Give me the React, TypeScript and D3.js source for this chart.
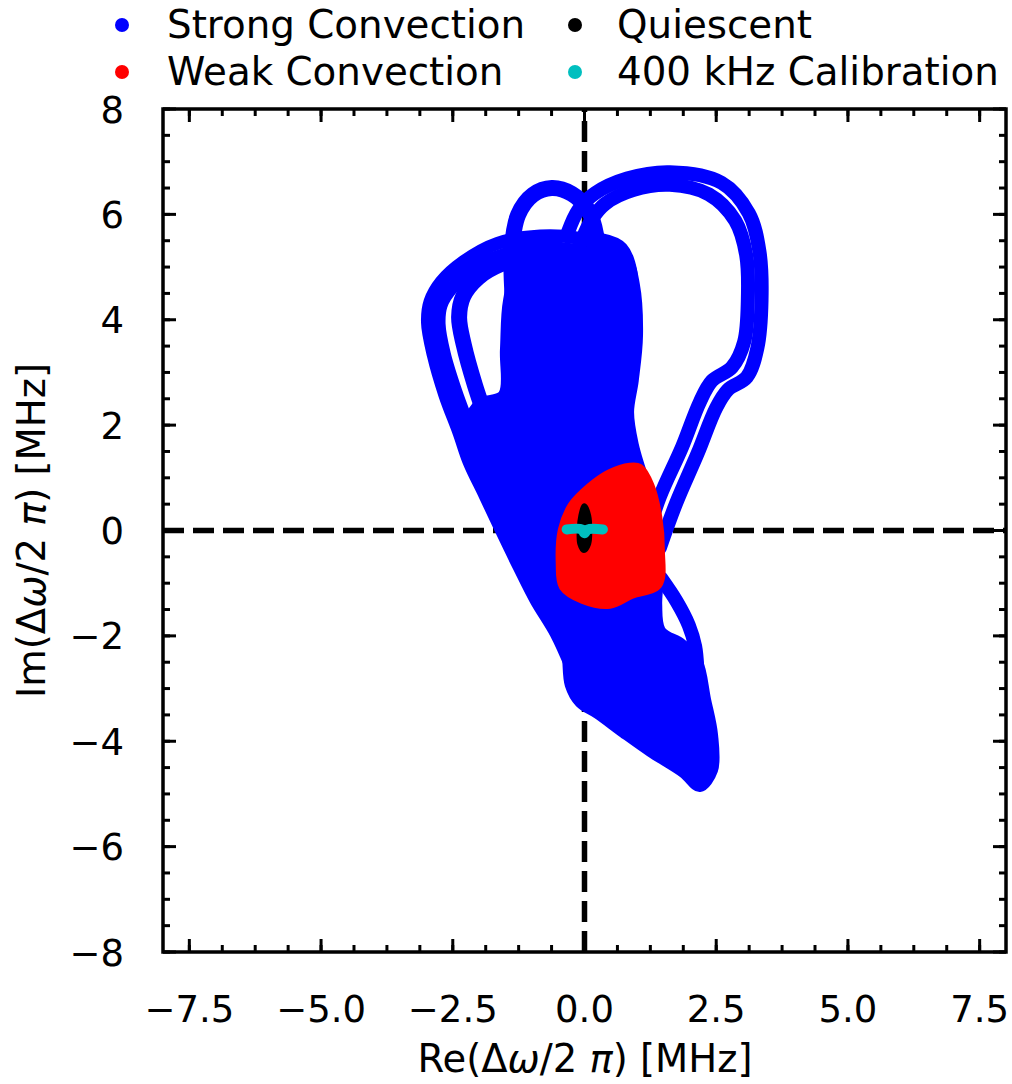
import React from 'react';
import * as d3 from 'd3';

type P = [number, number];

// ---- Data (Re, Im) in MHz ----
const strongRightOuter: P[] = [
  [1.43, -0.33], [1.74, 0.52], [2.15, 1.47], [2.5, 2.33], [2.72, 2.67], [3.08, 2.91], [3.28, 3.46],
  [3.36, 4.37], [3.32, 5.3], [3.12, 6.02], [2.6, 6.6], [1.62, 6.8], [0.81, 6.68], [0.2, 6.4],
  [-0.12, 6.08], [-0.31, 5.67],
];
const strongRightInner: P[] = [
  [1.15, -0.22], [1.43, 0.64], [1.85, 1.58], [2.19, 2.44], [2.42, 2.84], [2.8, 3.1], [3.03, 3.58],
  [3.1, 4.37], [3.07, 5.22], [2.86, 5.88], [2.36, 6.38], [1.62, 6.56], [0.92, 6.46], [0.39, 6.2],
  [0.14, 5.91], [-0.05, 5.51],
];
const strongLeftOuter: P[] = [
  [-0.24, -2.61], [-0.54, -1.95], [-0.92, -1.32], [-1.24, -0.69], [-1.57, -0.01], [-1.89, 0.67],
  [-2.19, 1.3], [-2.38, 1.85], [-2.65, 2.57], [-2.87, 3.33], [-2.98, 3.95], [-2.93, 4.35],
  [-2.72, 4.72], [-2.3, 5.1], [-1.65, 5.45], [-0.84, 5.59], [-0.12, 5.55], [0.52, 5.36],
];
const strongLeftMiddle: P[] = [
  [-0.09, -2.46], [-0.35, -1.79], [-0.73, -1.17], [-1.05, -0.56], [-1.38, 0.1], [-1.7, 0.77],
  [-2.0, 1.4], [-2.19, 1.95], [-2.44, 2.63], [-2.66, 3.35], [-2.76, 3.92], [-2.72, 4.28],
  [-2.52, 4.6], [-2.12, 4.96], [-1.53, 5.24], [-0.84, 5.36], [-0.18, 5.32], [0.39, 5.17],
];
const strongLeftInner: P[] = [
  [-1.51, 1.15], [-1.79, 1.91], [-2.08, 2.76], [-2.29, 3.52], [-2.38, 4.05], [-2.3, 4.45],
  [-2.02, 4.8], [-1.6, 5.05], [-1.03, 5.2],
];
const strongTopLoop: P[] = [
  [-1.36, 4.37], [-1.38, 5.32], [-1.26, 5.99], [-0.98, 6.37], [-0.62, 6.5], [-0.24, 6.39],
  [0.07, 6.08], [0.22, 5.61], [0.26, 4.94],
];
const strongRightBand: P[] = [
  [0.29, 5.48], [0.67, 5.32], [0.88, 4.66], [0.94, 3.71], [0.86, 2.86], [0.77, 2.25], [0.86, 1.62],
  [1.09, 0.86],
];
const strongTailBand: P[] = [
  [1.45, -0.9], [1.75, -1.35], [1.98, -1.8], [2.1, -2.2], [2.14, -2.6],
];
const strongCore: P[] = [
  [-1.22, 5.1], [-1.45, 4.37], [-1.51, 3.43], [-1.55, 2.57], [-1.98, 2.42], [-2.17, 2.1],
  [-2.02, 1.62], [-1.79, 1.15], [-1.57, 0.58], [-1.32, -0.28], [-0.94, -1.03], [-0.56, -1.6],
  [-0.35, -2.27], [-0.28, -2.93], [-0.09, -3.27], [0.24, -3.48], [0.73, -3.84], [1.24, -4.2],
  [1.87, -4.6], [2.19, -4.87], [2.44, -4.55], [2.44, -3.88], [2.31, -3.22], [2.14, -2.46],
  [1.85, -2.15], [1.45, -1.9], [1.38, -1.4], [1.43, -0.56], [1.28, 0.1], [1.09, 0.77], [0.86, 1.53],
  [0.77, 2.25], [0.86, 3.05], [0.92, 4.18], [0.83, 5.1], [0.29, 5.28], [-0.46, 5.21],
];
const weakRegion: P[] = [
  [0.86, 1.21], [0.48, 1.09], [0.1, 0.83], [-0.24, 0.48], [-0.43, 0.01], [-0.47, -0.62],
  [-0.41, -1.07], [-0.03, -1.32], [0.48, -1.41], [0.9, -1.22], [1.4, -1.03], [1.45, -0.37],
  [1.4, 0.26], [1.25, 0.86], [1.05, 1.19],
];
const quiescentRegion: P[] = [
  [0.0, 0.46], [0.07, 0.28], [0.09, 0.03], [0.07, -0.25], [-0.01, -0.37], [-0.08, -0.25],
  [-0.09, 0.03], [-0.06, 0.28],
];
const calibrationTrace: P[] = [
  [-0.34, 0.02], [-0.05, 0.02], [0.0, -0.05], [0.06, 0.02], [0.35, 0.02],
];

const xMajorTicks = [-7.5, -5, -2.5, 0, 2.5, 5, 7.5];
const xTickLabels = ['−7.5', '−5.0', '−2.5', '0.0', '2.5', '5.0', '7.5'];
const yMajorTicks = [-8, -6, -4, -2, 0, 2, 4, 6, 8];
const yTickLabels = ['−8', '−6', '−4', '−2', '0', '2', '4', '6', '8'];
const xMinorStep = 0.625;
const yMinorStep = 0.5;

const legendNames = ['Strong Convection', 'Weak Convection', 'Quiescent', '400 kHz Calibration'];
const legendColors = ['#0000ff', '#ff0000', '#000000', '#00bfbf'];

const FONT = 'DejaVu Sans';

export default function App() {
  const W = 1012, H = 1084;
  const L = 163, R = 1006, T = 109, B = 952;
  const x = d3.scaleLinear().domain([-8, 8]).range([L, R]);
  const y = d3.scaleLinear().domain([-8, 8]).range([B, T]);

  const open = d3.line<P>().x(d => x(d[0])).y(d => y(d[1])).curve(d3.curveCatmullRom.alpha(0.5));
  const closed = d3.line<P>().x(d => x(d[0])).y(d => y(d[1])).curve(d3.curveCatmullRomClosed.alpha(0.5));

  const xMinor = d3.range(-7.5, 7.5001, xMinorStep);
  const yMinor = d3.range(-8, 8.0001, yMinorStep);

  const blue = legendColors[0], red = legendColors[1], black = legendColors[2], cyan = legendColors[3];

  const trajStyle = (w: number) => ({
    fill: 'none', stroke: blue, strokeWidth: w, strokeLinecap: 'round' as const, strokeLinejoin: 'round' as const,
  });

  const legendPos = [
    { mx: 122, tx: 167, ty: 38 },
    { mx: 122, tx: 167, ty: 85 },
    { mx: 575, tx: 617, ty: 38 },
    { mx: 575, tx: 617, ty: 85 },
  ];

  return (
    <svg width={W} height={H} style={{ position: 'absolute', left: 0, top: 0, background: '#fff' }}
      fontFamily={FONT}>
      <rect x={0} y={0} width={W} height={H} fill="#fff" />
      <defs>
        <clipPath id="plotclip"><rect x={L} y={T} width={R - L} height={B - T} /></clipPath>
      </defs>

      {/* zero lines */}
      <g clipPath="url(#plotclip)">
        <line x1={L} x2={R} y1={y(0)} y2={y(0)} stroke="#000" strokeWidth={5.5} strokeDasharray="21,9" />
        <line x1={x(0)} x2={x(0)} y1={B} y2={T} stroke="#000" strokeWidth={5.5} strokeDasharray="21,9" />
      </g>

      {/* strong convection */}
      <g clipPath="url(#plotclip)">
        <path d={closed(strongCore) || ''} fill={blue} stroke={blue} strokeWidth={10} strokeLinejoin="round" />
        <path d={open(strongRightOuter) || ''} {...trajStyle(14)} />
        <path d={open(strongRightInner) || ''} {...trajStyle(14)} />
        <path d={open(strongLeftOuter) || ''} {...trajStyle(13)} />
        <path d={open(strongLeftMiddle) || ''} {...trajStyle(13)} />
        <path d={open(strongLeftInner) || ''} {...trajStyle(16)} />
        <path d={open(strongTopLoop) || ''} {...trajStyle(16)} />
        <path d={open(strongRightBand) || ''} {...trajStyle(18)} />
        <path d={open(strongTailBand) || ''} {...trajStyle(14)} />
      </g>

      {/* weak convection */}
      <path d={closed(weakRegion) || ''} fill={red} stroke={red} strokeWidth={8} strokeLinejoin="round" />

      {/* quiescent */}
      <path d={closed(quiescentRegion) || ''} fill={black} stroke={black} strokeWidth={6} strokeLinejoin="round" />

      {/* calibration */}
      <path d={open(calibrationTrace) || ''} fill="none" stroke={cyan} strokeWidth={10} strokeLinecap="round" strokeLinejoin="round" />

      {/* ticks */}
      <g stroke="#000" strokeWidth={3}>
        {xMinor.map((v, i) => (
          <g key={'xm' + i}>
            <line x1={x(v)} x2={x(v)} y1={B} y2={B - 7} />
            <line x1={x(v)} x2={x(v)} y1={T} y2={T + 7} />
          </g>
        ))}
        {yMinor.map((v, i) => (
          <g key={'ym' + i}>
            <line x1={L} x2={L + 7} y1={y(v)} y2={y(v)} />
            <line x1={R} x2={R - 7} y1={y(v)} y2={y(v)} />
          </g>
        ))}
        {xMajorTicks.map((v, i) => (
          <g key={'xM' + i}>
            <line x1={x(v)} x2={x(v)} y1={B} y2={B - 13} />
            <line x1={x(v)} x2={x(v)} y1={T} y2={T + 13} />
          </g>
        ))}
        {yMajorTicks.map((v, i) => (
          <g key={'yM' + i}>
            <line x1={L} x2={L + 13} y1={y(v)} y2={y(v)} />
            <line x1={R} x2={R - 13} y1={y(v)} y2={y(v)} />
          </g>
        ))}
      </g>

      {/* frame */}
      <rect x={L} y={T} width={R - L} height={B - T} fill="none" stroke="#000" strokeWidth={3.5} />

      {/* tick labels */}
      <g fontSize={37} fill="#000">
        {xMajorTicks.map((v, i) => (
          <text key={'xl' + i} x={x(v)} y={1022} textAnchor="middle">{xTickLabels[i]}</text>
        ))}
        {yMajorTicks.map((v, i) => (
          <text key={'yl' + i} x={124} y={y(v) + 13.5} textAnchor="end">{yTickLabels[i]}</text>
        ))}
      </g>

      {/* axis labels */}
      <text x={585} y={1072} textAnchor="middle" fontSize={38.5} fill="#000">
        Re(Δ<tspan fontStyle="italic">ω</tspan>/2 <tspan fontStyle="italic">π</tspan>) [MHz]
      </text>
      <text transform={`translate(45,${(T + B) / 2}) rotate(-90)`} textAnchor="middle" fontSize={38.5} fill="#000">
        Im(Δ<tspan fontStyle="italic">ω</tspan>/2 <tspan fontStyle="italic">π</tspan>) [MHz]
      </text>

      {/* legend */}
      <g fontSize={38.8} fill="#000">
        {legendNames.map((n, i) => (
          <g key={'lg' + i}>
            <circle cx={legendPos[i].mx} cy={legendPos[i].ty - 13} r={7} fill={legendColors[i]} />
            <text x={legendPos[i].tx} y={legendPos[i].ty}>{n}</text>
          </g>
        ))}
      </g>
    </svg>
  );
}
